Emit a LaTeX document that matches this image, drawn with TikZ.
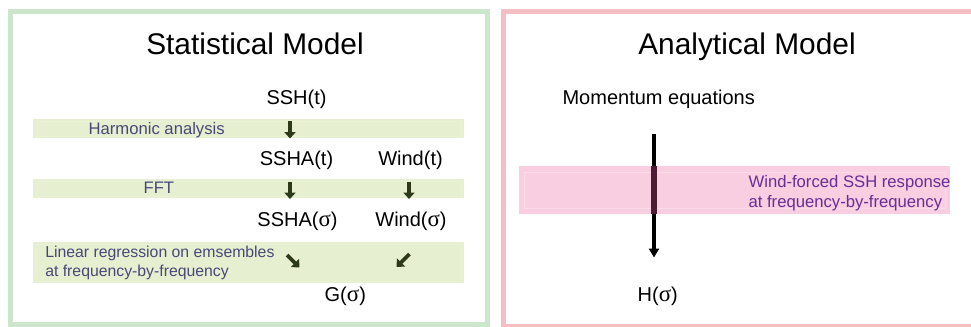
\documentclass[tikz,border=0pt]{standalone}
\usepackage{fontspec}
\setmainfont{Liberation Sans}
\newfontfamily\sigfontbase{Liberation Serif}
\newcommand{\mysig}{{\sigfontbase\fontsize{17.2}{18}\selectfont σ}}
\usetikzlibrary{arrows.meta}
\definecolor{gframe}{HTML}{CBE6CB}
\definecolor{pframe}{HTML}{F5BEC3}
\definecolor{gband}{HTML}{E6F0D0}
\definecolor{gbandline}{HTML}{E9F2D5}
\definecolor{pband}{HTML}{F8CEE0}
\definecolor{pbandline}{HTML}{FADCE9}
\definecolor{labtext}{HTML}{484878}
\definecolor{purtext}{HTML}{692D96}
\definecolor{garrow}{HTML}{2D3A19}
\definecolor{overlap}{HTML}{4B1C33}
\tikzset{
  title/.style={inner sep=0pt, anchor=base, font=\fontsize{22.4}{26}\selectfont},
  mtext/.style={inner sep=0pt, anchor=base, font=\fontsize{15}{18}\selectfont},
  blabel/.style={inner sep=0pt, anchor=base west, text=labtext, font=\fontsize{12.5}{14}\selectfont},
  plabel/.style={inner sep=0pt, anchor=base west, text=purtext, font=\fontsize{12.5}{14}\selectfont},
  garr/.style={draw=garrow, line width=2.8pt, -{Triangle[width=8.3pt,length=4.8pt]}},
  barr/.style={draw=black, line width=3pt, -{Triangle[width=7.5pt,length=6.75pt]}},
}
\begin{document}
\begin{tikzpicture}[x=0.75pt,y=-0.75pt]
\useasboundingbox (0,0) rectangle (971,326);
\clip (0,0) rectangle (971,326);
% frames
\draw[gframe, line width=3.75pt] (10.5,11.5) rectangle (487.5,324);
\draw[pframe, line width=3.75pt] (503.2,11.5) rectangle (980,326.5);
% green bands
\fill[gband] (33,119) rectangle (464,138);
\fill[gband] (33,179) rectangle (464,198);
\fill[gband] (33,242) rectangle (464,283);
\draw[gbandline, line width=0.4pt] (36,121) rectangle (461,136);
\draw[gbandline, line width=0.4pt] (36,181) rectangle (461,196);
\draw[gbandline, line width=0.4pt] (36,244) rectangle (461,281);
% titles
\node[title] (st) at (255,54) {Statistical Model};
\node[title] (at) at (747,54) {Analytical Model};
% left texts
\node[mtext] (ssh) at (296.5,104.5) {SSH(t)};
\node[mtext] (ssha) at (296.5,165.7) {SSHA(t)};
\node[mtext] (windt) at (410.5,165.7) {Wind(t)};
\node[mtext] (sshas) at (297.5,226.7) {SSHA(\mysig)};
\node[mtext] (winds) at (411,226.7) {Wind(\mysig)};
\node[mtext] (g) at (345.3,301) {G(\mysig)};
\node[blabel] (ha) at (88.3,134) {Harmonic analysis};
\node[blabel] (fft) at (143.3,193) {FFT};
\node[blabel, font=\fontsize{11.85}{14}\selectfont] (lr1) at (45,257.3) {Linear regression on emsembles};
\node[blabel, font=\fontsize{11.85}{14}\selectfont] (lr2) at (45,276.3) {at frequency-by-frequency};
% green arrows
\coordinate (a1s) at (290,121); \coordinate (a1e) at (290,138.5);
\coordinate (a2s) at (290,181.5); \coordinate (a2e) at (290,199);
\coordinate (a3s) at (409,181.5); \coordinate (a3e) at (409,199);
\coordinate (a4s) at (287,255); \coordinate (a4e) at (299.5,267.5);
\coordinate (a5s) at (409.5,254); \coordinate (a5e) at (396.5,267);
\draw[garr] (a1s) -- (a1e);
\draw[garr] (a2s) -- (a2e);
\draw[garr] (a3s) -- (a3e);
\draw[garr] (a4s) -- (a4e);
\draw[garr] (a5s) -- (a5e);
% right side
\node[mtext, anchor=base west] (mom) at (562.3,104.5) {Momentum equations};
\node[mtext] (h) at (657.8,301) {H(\mysig)};
\fill[pband] (519,166) rectangle (950,214);
\draw[pbandline, line width=0.5pt] (524,172) rectangle (945,208);
\coordinate (bs) at (654,134); \coordinate (be) at (654,257.5);
\draw[barr] (bs) -- (be);
\fill[overlap] (651.3,166) rectangle (656.7,214);
\node[plabel] (wf1) at (748.3,187.7) {Wind-forced SSH response};
\node[plabel] (wf2) at (748.3,207.5) {at frequency-by-frequency};
\end{tikzpicture}
\end{document}
